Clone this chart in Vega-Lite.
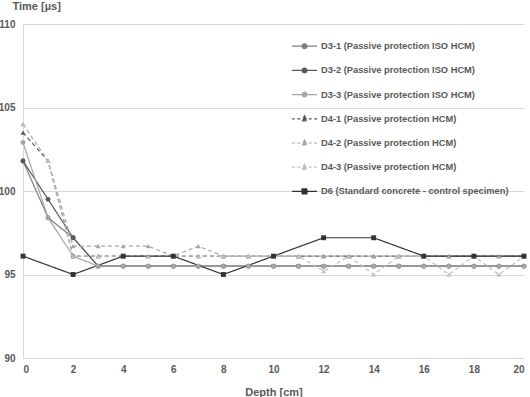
{
  "$schema": "https://vega.github.io/schema/vega-lite/v6.json",
  "width": 501,
  "height": 334,
  "autosize": {"type": "none"},
  "padding": {"left": 23, "top": 24, "right": 6, "bottom": 39},
  "background": "white",
  "config": {
    "view": {"stroke": null},
    "font": "Liberation Sans",
    "axis": {
      "labelFont": "Liberation Sans",
      "labelFontWeight": "bold",
      "labelFontSize": 10,
      "labelColor": "#595959",
      "titleFont": "Liberation Sans",
      "titleFontWeight": "bold",
      "titleFontSize": 11,
      "titleColor": "#595959",
      "domainColor": "#d9d9d9",
      "gridColor": "#d9d9d9",
      "ticks": false
    }
  },
  "data": {
    "values": [
      {"s": "D3-1", "g": "D3", "x": 0, "t": 101.8}, {"s": "D3-1", "g": "D3", "x": 1, "t": 98.4}, {"s": "D3-1", "g": "D3", "x": 2, "t": 97.2},
      {"s": "D3-1", "g": "D3", "x": 3, "t": 95.5}, {"s": "D3-1", "g": "D3", "x": 4, "t": 95.5}, {"s": "D3-1", "g": "D3", "x": 5, "t": 95.5},
      {"s": "D3-1", "g": "D3", "x": 6, "t": 95.5}, {"s": "D3-1", "g": "D3", "x": 7, "t": 95.5}, {"s": "D3-1", "g": "D3", "x": 8, "t": 95.5},
      {"s": "D3-1", "g": "D3", "x": 9, "t": 95.5}, {"s": "D3-1", "g": "D3", "x": 10, "t": 95.5}, {"s": "D3-1", "g": "D3", "x": 11, "t": 95.5},
      {"s": "D3-1", "g": "D3", "x": 12, "t": 95.5}, {"s": "D3-1", "g": "D3", "x": 13, "t": 95.5}, {"s": "D3-1", "g": "D3", "x": 14, "t": 95.5},
      {"s": "D3-1", "g": "D3", "x": 15, "t": 95.5}, {"s": "D3-1", "g": "D3", "x": 16, "t": 95.5}, {"s": "D3-1", "g": "D3", "x": 17, "t": 95.5},
      {"s": "D3-1", "g": "D3", "x": 18, "t": 95.5}, {"s": "D3-1", "g": "D3", "x": 19, "t": 95.5}, {"s": "D3-1", "g": "D3", "x": 20, "t": 95.5},

      {"s": "D3-2", "g": "D3", "x": 0, "t": 101.8}, {"s": "D3-2", "g": "D3", "x": 1, "t": 99.5}, {"s": "D3-2", "g": "D3", "x": 2, "t": 97.2},
      {"s": "D3-2", "g": "D3", "x": 3, "t": 95.5}, {"s": "D3-2", "g": "D3", "x": 4, "t": 95.5}, {"s": "D3-2", "g": "D3", "x": 5, "t": 95.5},
      {"s": "D3-2", "g": "D3", "x": 6, "t": 95.5}, {"s": "D3-2", "g": "D3", "x": 7, "t": 95.5}, {"s": "D3-2", "g": "D3", "x": 8, "t": 95.5},
      {"s": "D3-2", "g": "D3", "x": 9, "t": 95.5}, {"s": "D3-2", "g": "D3", "x": 10, "t": 95.5}, {"s": "D3-2", "g": "D3", "x": 11, "t": 95.5},
      {"s": "D3-2", "g": "D3", "x": 12, "t": 95.5}, {"s": "D3-2", "g": "D3", "x": 13, "t": 95.5}, {"s": "D3-2", "g": "D3", "x": 14, "t": 95.5},
      {"s": "D3-2", "g": "D3", "x": 15, "t": 95.5}, {"s": "D3-2", "g": "D3", "x": 16, "t": 95.5}, {"s": "D3-2", "g": "D3", "x": 17, "t": 95.5},
      {"s": "D3-2", "g": "D3", "x": 18, "t": 95.5}, {"s": "D3-2", "g": "D3", "x": 19, "t": 95.5}, {"s": "D3-2", "g": "D3", "x": 20, "t": 95.5},

      {"s": "D3-3", "g": "D3", "x": 0, "t": 102.9}, {"s": "D3-3", "g": "D3", "x": 1, "t": 98.4}, {"s": "D3-3", "g": "D3", "x": 2, "t": 96.1},
      {"s": "D3-3", "g": "D3", "x": 3, "t": 95.5}, {"s": "D3-3", "g": "D3", "x": 4, "t": 95.5}, {"s": "D3-3", "g": "D3", "x": 5, "t": 95.5},
      {"s": "D3-3", "g": "D3", "x": 6, "t": 95.5}, {"s": "D3-3", "g": "D3", "x": 7, "t": 95.5}, {"s": "D3-3", "g": "D3", "x": 8, "t": 95.5},
      {"s": "D3-3", "g": "D3", "x": 9, "t": 95.5}, {"s": "D3-3", "g": "D3", "x": 10, "t": 95.5}, {"s": "D3-3", "g": "D3", "x": 11, "t": 95.5},
      {"s": "D3-3", "g": "D3", "x": 12, "t": 95.5}, {"s": "D3-3", "g": "D3", "x": 13, "t": 95.5}, {"s": "D3-3", "g": "D3", "x": 14, "t": 95.5},
      {"s": "D3-3", "g": "D3", "x": 15, "t": 95.5}, {"s": "D3-3", "g": "D3", "x": 16, "t": 95.5}, {"s": "D3-3", "g": "D3", "x": 17, "t": 95.5},
      {"s": "D3-3", "g": "D3", "x": 18, "t": 95.5}, {"s": "D3-3", "g": "D3", "x": 19, "t": 95.5}, {"s": "D3-3", "g": "D3", "x": 20, "t": 95.5},

      {"s": "D4-1", "g": "D4", "x": 0, "t": 103.5}, {"s": "D4-1", "g": "D4", "x": 1, "t": 101.8}, {"s": "D4-1", "g": "D4", "x": 2, "t": 96.1},
      {"s": "D4-1", "g": "D4", "x": 3, "t": 96.1}, {"s": "D4-1", "g": "D4", "x": 4, "t": 96.1}, {"s": "D4-1", "g": "D4", "x": 5, "t": 96.1},
      {"s": "D4-1", "g": "D4", "x": 6, "t": 96.1}, {"s": "D4-1", "g": "D4", "x": 7, "t": 96.1}, {"s": "D4-1", "g": "D4", "x": 8, "t": 96.1},
      {"s": "D4-1", "g": "D4", "x": 9, "t": 96.1}, {"s": "D4-1", "g": "D4", "x": 10, "t": 96.1}, {"s": "D4-1", "g": "D4", "x": 11, "t": 96.1},
      {"s": "D4-1", "g": "D4", "x": 12, "t": 96.1}, {"s": "D4-1", "g": "D4", "x": 13, "t": 96.1}, {"s": "D4-1", "g": "D4", "x": 14, "t": 96.1},
      {"s": "D4-1", "g": "D4", "x": 15, "t": 96.1}, {"s": "D4-1", "g": "D4", "x": 16, "t": 96.1}, {"s": "D4-1", "g": "D4", "x": 17, "t": 96.1},
      {"s": "D4-1", "g": "D4", "x": 18, "t": 96.1}, {"s": "D4-1", "g": "D4", "x": 19, "t": 96.1}, {"s": "D4-1", "g": "D4", "x": 20, "t": 96.1},

      {"s": "D4-2", "g": "D4", "x": 0, "t": 104.0}, {"s": "D4-2", "g": "D4", "x": 1, "t": 101.8}, {"s": "D4-2", "g": "D4", "x": 2, "t": 96.7},
      {"s": "D4-2", "g": "D4", "x": 3, "t": 96.7}, {"s": "D4-2", "g": "D4", "x": 4, "t": 96.7}, {"s": "D4-2", "g": "D4", "x": 5, "t": 96.7},
      {"s": "D4-2", "g": "D4", "x": 6, "t": 96.1}, {"s": "D4-2", "g": "D4", "x": 7, "t": 96.7}, {"s": "D4-2", "g": "D4", "x": 8, "t": 96.1},
      {"s": "D4-2", "g": "D4", "x": 9, "t": 96.1}, {"s": "D4-2", "g": "D4", "x": 10, "t": 96.1}, {"s": "D4-2", "g": "D4", "x": 11, "t": 96.1},
      {"s": "D4-2", "g": "D4", "x": 12, "t": 96.1}, {"s": "D4-2", "g": "D4", "x": 13, "t": 96.1}, {"s": "D4-2", "g": "D4", "x": 14, "t": 96.1},
      {"s": "D4-2", "g": "D4", "x": 15, "t": 96.1}, {"s": "D4-2", "g": "D4", "x": 16, "t": 96.1}, {"s": "D4-2", "g": "D4", "x": 17, "t": 96.1},
      {"s": "D4-2", "g": "D4", "x": 18, "t": 96.1}, {"s": "D4-2", "g": "D4", "x": 19, "t": 96.1}, {"s": "D4-2", "g": "D4", "x": 20, "t": 96.1},

      {"s": "D4-3", "g": "D4", "x": 0, "t": 104.0}, {"s": "D4-3", "g": "D4", "x": 1, "t": 101.8}, {"s": "D4-3", "g": "D4", "x": 2, "t": 96.1},
      {"s": "D4-3", "g": "D4", "x": 3, "t": 96.1}, {"s": "D4-3", "g": "D4", "x": 4, "t": 96.1}, {"s": "D4-3", "g": "D4", "x": 5, "t": 96.1},
      {"s": "D4-3", "g": "D4", "x": 6, "t": 96.1}, {"s": "D4-3", "g": "D4", "x": 7, "t": 96.1}, {"s": "D4-3", "g": "D4", "x": 8, "t": 96.1},
      {"s": "D4-3", "g": "D4", "x": 9, "t": 96.1}, {"s": "D4-3", "g": "D4", "x": 10, "t": 96.1}, {"s": "D4-3", "g": "D4", "x": 11, "t": 96.1},
      {"s": "D4-3", "g": "D4", "x": 12, "t": 95.2}, {"s": "D4-3", "g": "D4", "x": 13, "t": 96.1}, {"s": "D4-3", "g": "D4", "x": 14, "t": 95.0},
      {"s": "D4-3", "g": "D4", "x": 15, "t": 96.1}, {"s": "D4-3", "g": "D4", "x": 16, "t": 96.1}, {"s": "D4-3", "g": "D4", "x": 17, "t": 95.0},
      {"s": "D4-3", "g": "D4", "x": 18, "t": 96.1}, {"s": "D4-3", "g": "D4", "x": 19, "t": 95.0}, {"s": "D4-3", "g": "D4", "x": 20, "t": 96.1},

      {"s": "D6", "g": "D6", "x": 0, "t": 96.1}, {"s": "D6", "g": "D6", "x": 2, "t": 95.0}, {"s": "D6", "g": "D6", "x": 4, "t": 96.1},
      {"s": "D6", "g": "D6", "x": 6, "t": 96.1}, {"s": "D6", "g": "D6", "x": 8, "t": 95.0}, {"s": "D6", "g": "D6", "x": 10, "t": 96.1},
      {"s": "D6", "g": "D6", "x": 12, "t": 97.2}, {"s": "D6", "g": "D6", "x": 14, "t": 97.2}, {"s": "D6", "g": "D6", "x": 16, "t": 96.1},
      {"s": "D6", "g": "D6", "x": 18, "t": 96.1}, {"s": "D6", "g": "D6", "x": 20, "t": 96.1}
    ]
  },
  "encoding": {
    "x": {
      "field": "x", "type": "quantitative",
      "scale": {"domain": [0, 20], "nice": false},
      "axis": {"values": [0, 2, 4, 6, 8, 10, 12, 14, 16, 18, 20], "grid": false, "labelPadding": 6.5, "title": "Depth [cm]", "titleY": 37.5, "titleBaseline": "alphabetic"}
    },
    "y": {
      "field": "t", "type": "quantitative",
      "scale": {"domain": [90, 110], "nice": false, "zero": false},
      "axis": {"values": [90, 95, 100, 105, 110], "grid": true, "labelPadding": 8, "title": "Time [µs]", "titleAngle": 0, "titleAlign": "left", "titleBaseline": "alphabetic", "titleX": -11, "titleY": -14.5}
    },
    "color": {
      "field": "s", "type": "nominal",
      "scale": {
        "domain": ["D3-1", "D3-2", "D3-3", "D4-1", "D4-2", "D4-3", "D6"],
        "range": ["#7f7f7f", "#595959", "#a6a6a6", "#595959", "#a6a6a6", "#bfbfbf", "#333333"]
      },
      "legend": {
        "orient": "none", "legendX": 270.5, "legendY": 11.2, "title": null, "padding": 0,
        "symbolSize": 400, "symbolStrokeWidth": 1.2, "rowPadding": 7.2, "labelOffset": 5.5, "labelLimit": 400,
        "labelFont": "Liberation Sans", "labelFontSize": 9.3, "labelFontWeight": "bold", "labelColor": "#595959",
        "labelExpr": "datum.label == 'D6' ? 'D6 (Standard concrete - control specimen)' : indexof(datum.label, 'D3') == 0 ? datum.label + ' (Passive protection ISO HCM)' : datum.label + ' (Passive protection HCM)'",
        "encode": {
          "symbols": {
            "update": {
              "shape": {"signal": "datum.value == 'D6' ? 'M-1.25,0H1.25M-0.25,-0.25H0.25V0.25H-0.25Z' : indexof(datum.value, 'D4') == 0 ? 'M-1.25,0H-0.97M-0.72,0H-0.42M0.42,0H0.72M0.97,0H1.25M0,-0.3L0.27,0.2H-0.27Z' : 'M-1.25,0H1.25M0.24,0A0.24,0.24,0,1,1,-0.24,0A0.24,0.24,0,1,1,0.24,0Z'"},
              "fill": {"signal": "scale('color', datum.value)"},
              "stroke": {"signal": "scale('color', datum.value)"},
              "strokeDash": {"value": [1, 0]},
              "opacity": {"value": 1}
            }
          }
        }
      }
    }
  },
  "layer": [
    {
      "mark": {"type": "line", "strokeWidth": 1.2},
      "encoding": {
        "strokeDash": {
          "field": "s", "type": "nominal",
          "scale": {
            "domain": ["D3-1", "D3-2", "D3-3", "D4-1", "D4-2", "D4-3", "D6"],
            "range": [[1, 0], [1, 0], [1, 0], [4, 3], [4, 3], [4, 3], [1, 0]]
          },
          "legend": null
        }
      }
    },
    {
      "mark": {"type": "point", "filled": true, "opacity": 1, "size": 24},
      "encoding": {
        "shape": {
          "field": "g", "type": "nominal",
          "scale": {
            "domain": ["D3", "D4", "D6"],
            "range": ["circle", "triangle-up", "square"]
          },
          "legend": null
        }
      }
    }
  ]
}
